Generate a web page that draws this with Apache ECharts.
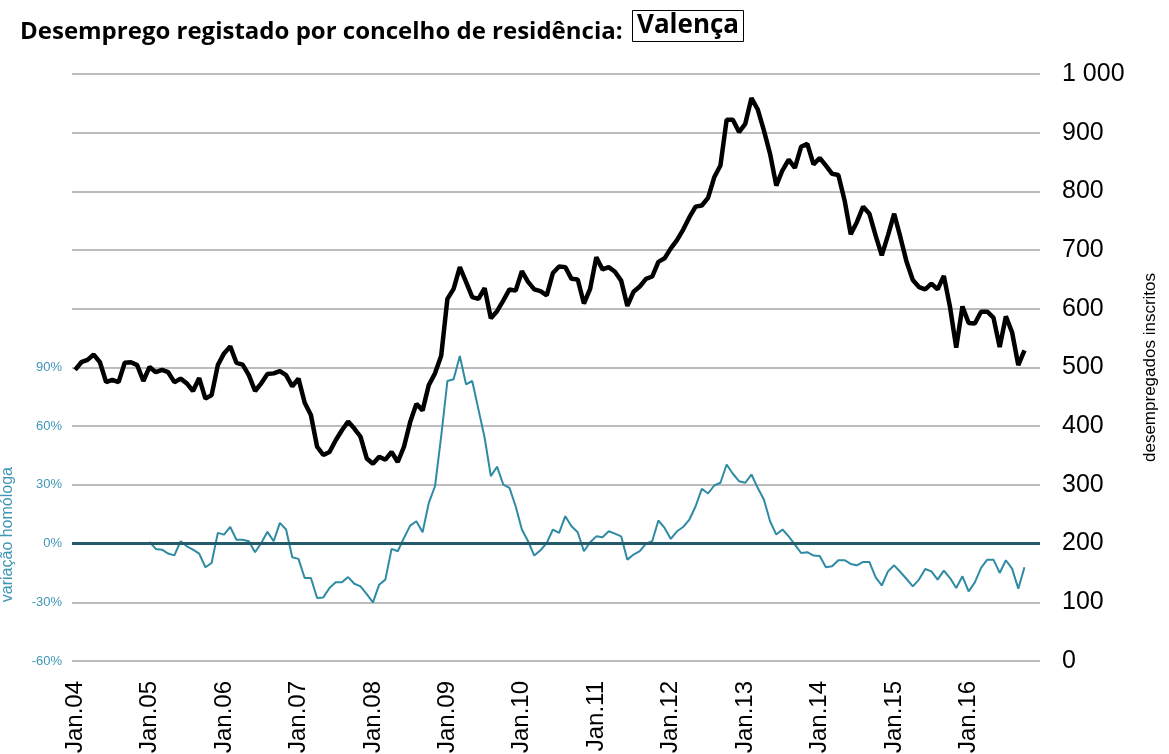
<!DOCTYPE html>
<html lang="pt">
<head>
    <meta charset="UTF-8">
    <title>Desemprego registado - Valença</title>
</head>
<body style="margin:0;background:#fff;">

    <div id="main" style="width: 1169px; height: 754px;"></div>
    <script src="https://cdn.jsdelivr.net/npm/echarts@6/dist/echarts.min.js"></script>
    <script>
      // meses (Jan.04 .. Dez.16)
      var years = ['04','05','06','07','08','09','10','11','12','13','14','15','16'];
      var monthNames = ['Jan','Fev','Mar','Abr','Mai','Jun','Jul','Ago','Set','Out','Nov','Dez'];

      // desempregados inscritos (eixo direito)
      var inscritos = [
        496, 509, 513, 522, 509, 475, 479, 475, 508, 509, 504, 477,
        501, 492, 496, 492, 475, 481, 473, 460, 482, 447, 453, 504,
        524, 536, 508, 505, 487, 460, 473, 489, 490, 494, 487, 468,
        481, 440, 419, 365, 351, 356, 376, 393, 408, 396, 382, 345,
        336, 348, 343, 356, 339, 365, 407, 438, 427, 470, 490, 520,
        617, 634, 671, 646, 620, 617, 635, 584, 596, 614, 633, 631,
        664, 646, 633, 630, 623, 661, 672, 671, 651, 650, 609, 634,
        688, 667, 671, 663, 648, 605, 629, 638, 651, 655, 680, 686,
        703, 717, 735, 756, 774, 776, 789, 824, 844, 922, 922, 901,
        915, 959, 940, 904, 864, 810, 836, 854, 840, 876, 881, 846,
        857, 844, 830, 828, 785, 727, 748, 774, 762, 725, 691, 725,
        762, 722, 680, 649, 637, 633, 643, 633, 656, 603, 534, 604,
        576, 575, 595, 595, 585, 535, 587, 560, 504, 529
      ];

      // variação homóloga em % (eixo esquerdo)
      var variacao = [
        null, null, null, null, null, null, null, null, null, null, null, null,
        0.9, -2.7, -3.1, -5.1, -6.0, 1.2, -1.4, -3.1, -5.1, -12.1, -9.9, 5.5,
        4.6, 8.5, 2.0, 2.0, 1.2, -4.4, 0.3, 6.0, 1.2, 10.6, 7.2, -7.0,
        -7.8, -17.6, -17.6, -27.8, -27.5, -22.7, -19.8, -19.8, -17.1, -20.5, -21.9, -25.8,
        -30.0, -21.0, -18.4, -2.7, -3.9, 2.9, 9.2, 11.4, 5.8, 20.8, 29.3, 54.9,
        83.1, 84.0, 95.9, 81.4, 83.1, 68.6, 54.1, 34.5, 39.3, 30.2, 28.5, 19.1,
        7.2, 1.2, -6.1, -3.4, 0.2, 7.2, 5.5, 14.0, 8.9, 5.8, -3.9, 0.7,
        3.7, 3.2, 6.3, 5.1, 3.7, -8.2, -5.6, -3.9, 0, 1.2, 11.8, 8.0,
        2.4, 6.3, 8.5, 12.3, 19.1, 28.0, 25.6, 29.7, 31.1, 40.4, 35.7, 31.9,
        31.1, 35.3, 28.5, 22.5, 11.4, 4.6, 7.2, 3.7, -0.5, -4.8, -4.4, -6.1,
        -6.3, -12.1, -11.6, -8.5, -8.5, -10.4, -11.1, -9.4, -9.4, -17.1, -21.4, -14.2,
        -11.1, -14.5, -18.1, -21.9, -18.4, -13.0, -14.2, -18.4, -13.8, -17.6, -22.7, -16.7,
        -24.4, -19.8, -12.4, -8.2, -8.2, -15.0, -8.5, -12.8, -23.0, -12.1
      ];

      var leftTicks = [-60, -30, 0, 30, 60, 90];

      var categories = [];
      years.forEach(function (y) {
        monthNames.forEach(function (m) {
          categories.push(m + '.' + y);
        });
      });

      var chartDom = document.getElementById('main');
      var myChart = echarts.init(chartDom);
      var option;

      option = {
        backgroundColor: '#fff',
        animation: false,
        title: [
          {
            text: 'Desemprego registado por concelho de residência:',
            left: 15,
            top: 15,
            textStyle: { fontFamily: 'Open Sans', fontWeight: 'bold', fontSize: 24, color: '#000' }
          },
          {
            text: 'Valença',
            left: 632,
            top: 10,
            padding: [3, 5, 3, 5],
            borderColor: '#000',
            borderWidth: 1,
            textStyle: { fontFamily: 'Open Sans', fontWeight: 'bold', fontSize: 26, color: '#000' }
          }
        ],
        // nome do eixo esquerdo, centrado na parte visível da escala
        graphic: [
          {
            type: 'text',
            left: 0,
            top: 467,
            rotation: Math.PI / 2,
            style: {
              text: 'variação homóloga',
              fontFamily: 'Liberation Sans',
              fontSize: 16,
              fill: '#3f97b5'
            }
          }
        ],
        grid: { left: 72, right: 129, top: 74, bottom: 93, outerBoundsMode: 'none', containLabel: false },
        xAxis: {
          type: 'category',
          data: categories,
          boundaryGap: true,
          axisLine: { show: false },
          axisTick: { show: false },
          splitLine: { show: false },
          axisLabel: {
            interval: function (idx) { return idx % 12 === 0; },
            rotate: 90,
            margin: 20,
            fontFamily: 'Liberation Sans',
            fontSize: 24,
            color: '#000'
          }
        },
        yAxis: [
          {
            type: 'value',
            position: 'right',
            min: 0,
            max: 1000,
            interval: 100,
            name: 'desempregados inscritos',
            nameLocation: 'middle',
            nameGap: 102,
            nameRotate: 90,
            nameTextStyle: { fontFamily: 'Liberation Sans', fontSize: 17, color: '#000' },
            axisLine: { show: false },
            axisTick: { show: false },
            axisLabel: {
              margin: 22,
              fontFamily: 'Liberation Sans',
              fontSize: 25,
              color: '#000',
              formatter: function (v) { return v >= 1000 ? '1 000' : String(v); }
            },
            splitLine: { lineStyle: { color: '#a6a6a6', width: 1.5 } }
          },
          {
            type: 'value',
            position: 'left',
            min: -60,
            max: 240,
            interval: 30,
            axisLine: { show: false },
            axisTick: { show: false },
            splitLine: { show: false },
            axisLabel: {
              margin: 10,
              fontFamily: 'Liberation Sans',
              fontSize: 13,
              color: '#3f97b5',
              formatter: function (v) { return leftTicks.indexOf(v) >= 0 ? v + '%' : ''; }
            }
          }
        ],
        series: [
          {
            name: 'variação homóloga',
            type: 'line',
            yAxisIndex: 1,
            data: variacao,
            symbol: 'none',
            lineStyle: { color: '#2f8ba3', width: 2 },
            markLine: {
              silent: true,
              symbol: 'none',
              label: { show: false },
              lineStyle: { color: '#235b6b', width: 3, type: 'solid' },
              data: [{ yAxis: 0 }]
            },
            z: 2
          },
          {
            name: 'desempregados inscritos',
            type: 'line',
            yAxisIndex: 0,
            data: inscritos,
            symbol: 'none',
            lineStyle: { color: '#000', width: 4.5 },
            z: 3
          }
        ]
      };

      option && myChart.setOption(option);
    </script>
</body>
</html>
